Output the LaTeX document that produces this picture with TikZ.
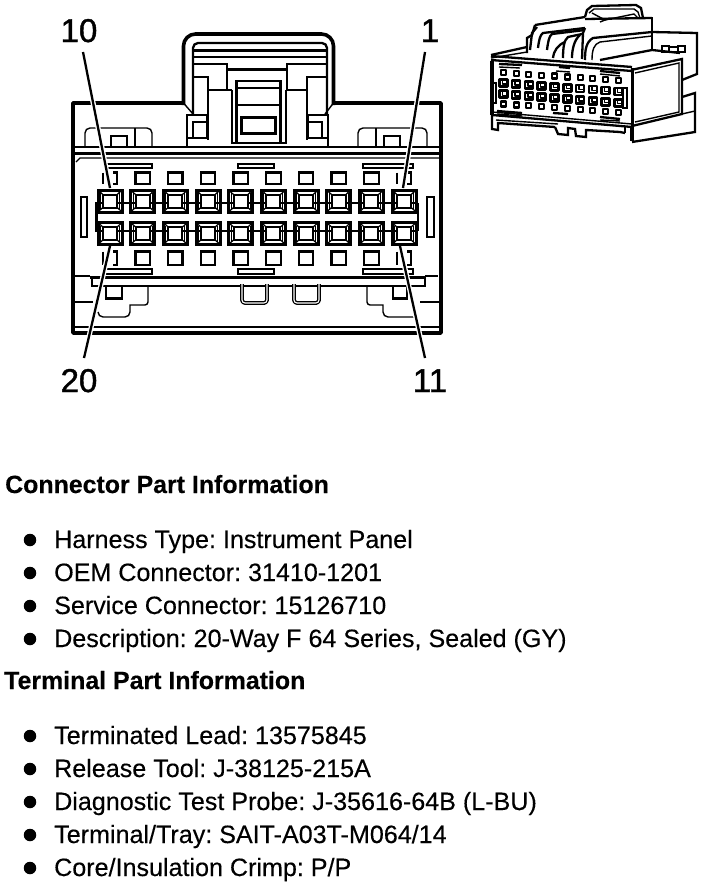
\documentclass[tikz,border=0pt]{standalone}
\usepackage{fontspec}
\setmainfont{Liberation Sans}
\newfontface\numf[FakeBold=1.2]{Liberation Sans}
\newfontface\itemf[FakeBold=0.25]{Liberation Sans}
\newfontface\headf[FakeBold=0.3]{Liberation Sans Bold}
\frenchspacing
\tikzset{
  thn/.style={line width=1.4pt,line cap=butt,line join=miter},
  med/.style={line width=2.3pt,line join=miter},
  thk/.style={line width=3.6pt,line join=round},
  leader/.style={line width=2.3pt,preaction={draw=white,line width=5pt,shorten >=3pt,shorten <=3pt}},
  numlbl/.style={inner sep=0pt,anchor=base,font=\fontsize{33}{33}\selectfont\numf},
  head/.style={inner sep=0pt,anchor=base west,font=\fontsize{24.9}{25}\selectfont\headf},
  item/.style={inner sep=0pt,anchor=base west,font=\fontsize{25.1}{25}\selectfont\itemf},
  dotb/.style={circle,fill=black,minimum size=12.5pt,inner sep=0pt},
  ubend/.style={line width=3.8pt,rounded corners=3pt,line join=round},
  uin/.style={line width=1.1pt,draw=white,rounded corners=3pt},
}
\begin{document}
\begin{tikzpicture}[x=1pt,y=-1pt]
\useasboundingbox (0,0) rectangle (704,886);
\fill[white] (0,0) rectangle (704,886);
% --- body outline
\draw[thk] (183.5,103) -- (73,103) -- (73,333) -- (441,333) -- (441,103) -- (333.5,103);
% --- handle
\draw[thk] (183.5,105) -- (183.5,46) arc[start angle=180,end angle=270,radius=12] -- (321.5,34) arc[start angle=270,end angle=360,radius=12] -- (333.5,105);
\draw[thn] (183.5,103) -- (193,114);
\draw[thn] (333.5,103) -- (325,114);
\draw[med] (193,114) -- (193,48) arc[start angle=180,end angle=270,radius=5] -- (322,43) arc[start angle=270,end angle=360,radius=5] -- (327,114);
\draw[med] (193,50.5) -- (327,50.5);
\draw[thn] (193,57) -- (327,57);
\draw[med] (193,64) -- (227,64) -- (227,69.5) -- (287,69.5) -- (287,64) -- (327,64);
\draw[thn] (193,77) -- (208,77) -- (208,140);
\draw[thn] (327,77) -- (307,77) -- (307,140);
\draw[thn] (227,64) -- (227,90) -- (208,90);
\draw[thn] (232,90) -- (227,90);
\draw[thn] (287,64) -- (287,90) -- (307,90);
\draw[med] (232,90) -- (232,143) -- (286,143) -- (286,90);
\draw[med] (236.5,143) -- (236.5,81) -- (280.5,81) -- (280.5,143);
\draw[thn] (236,88) -- (280,88);
\draw[thn] (236,105) -- (280,105);
\draw[line width=3pt] (241,117) rectangle (275,133);
% side boxes
\draw[med] (187,147) -- (187,115) -- (207,115) -- (207,138) -- (187,138);
\draw[med] (193,138) -- (193,122) -- (207,122);
\draw[med] (328,147) -- (328,115) -- (308,115) -- (308,138) -- (328,138);
\draw[med] (322,138) -- (322,122) -- (308,122);
% --- upper rules
\draw[thn] (75,147) -- (439,147);
\draw[line width=3pt] (75,153) -- (439,153);
\draw[thn] (439,158) -- (80,158) -- (76,162);
% --- upper tabs
\draw[thn] (85,147) -- (85,133) arc[start angle=180,end angle=270,radius=5] -- (147,128) arc[start angle=270,end angle=360,radius=5] -- (152,147);
\draw[med] (135,128) -- (135,147);
\draw[med] (111,147) -- (111,136) -- (127,136) -- (127,147);
\draw[thn] (358,147) -- (358,133) arc[start angle=180,end angle=270,radius=5] -- (422,128) arc[start angle=270,end angle=360,radius=5] -- (427,147);
\draw[med] (376,128) -- (376,147);
\draw[med] (384,147) -- (384,136) -- (400,136) -- (400,147);
% --- bars
\foreach \a/\b in {105/152,238/274,363/413}{
  \draw[line width=2.4pt] (\a,164) rectangle (\b,168);
  \draw[line width=2.4pt] (\a,269) rectangle (\b,274);
}
% --- small squares
\foreach \k in {1,...,8}{
  \pgfmathsetmacro{\cx}{110+32.67*\k}
  \draw[med] (\cx-7.3,172.5) rectangle (\cx+7.3,184);
  \draw[med] (\cx-7.3,251.5) rectangle (\cx+7.3,265);
}
\foreach \cx in {110,404}{
  \draw[thn] (\cx-7,172.5) -- (\cx-7,184);
  \draw[med] (\cx+3,172.5) -- (\cx+7,172.5) -- (\cx+7,184) -- (\cx+3,184);
  \draw[thn] (\cx-7,251.5) -- (\cx-7,265);
  \draw[med] (\cx+3,251.5) -- (\cx+7,251.5) -- (\cx+7,265) -- (\cx+3,265);
}
% --- slots
\draw[line width=2pt] (80.5,197) rectangle (87,237);
\draw[line width=2pt] (427,197) rectangle (433.5,237);
% --- terminals
\foreach \cy in {201,233.5}{
  \foreach \k in {0,...,9}{
    \pgfmathsetmacro{\cx}{110+32.67*\k}
    \draw[line width=3pt,fill=white] (\cx-12,\cy-11) rectangle (\cx+12,\cy+11);
    \draw[line width=1.2pt] (\cx-11,\cy-10) -- (\cx+11,\cy+10);
    \draw[line width=1.2pt] (\cx+11,\cy-10) -- (\cx-11,\cy+10);
    \draw[line width=1.2pt] (\cx-9.5,\cy-8) -- (\cx-9.5,\cy+8);
    \draw[line width=1.2pt] (\cx+9.5,\cy-8) -- (\cx+9.5,\cy+8);
  }
}
\draw[line width=2.8pt] (95,203) -- (418,203);
\draw[line width=1.5pt] (95,231) -- (418,231);
\draw[line width=3pt] (96,203) -- (96,230);
\draw[line width=1.4pt] (418,203) -- (418,231);
\foreach \cy in {201,233.5}{
  \foreach \k in {0,...,9}{
    \pgfmathsetmacro{\cx}{110+32.67*\k}
    \draw[line width=2pt,fill=white] (\cx-7,\cy-6.5) rectangle (\cx+7,\cy+6.5);
  }
}
% --- lower rules
\draw[line width=3pt] (90,277) -- (425,277);
\draw[thn] (75,276) -- (90,276);
\draw[thn] (425,276) -- (438,276);
\draw[thn] (92,286) -- (425,286);
\draw[thn] (92,277) -- (92,287);
\draw[thn] (425,277) -- (425,287);
% --- lower tabs
\draw[med] (106,287) -- (106,298.5) -- (122,298.5) -- (122,287);
\draw[thn] (148,287) -- (148,302) arc[start angle=0,end angle=90,radius=3] -- (130,305) -- (130,312) arc[start angle=0,end angle=90,radius=5] -- (103,317) arc[start angle=90,end angle=180,radius=5];
\draw[med] (393,287) -- (393,298.5) -- (407,298.5) -- (407,287);
\draw[thn] (367,287) -- (367,302) arc[start angle=180,end angle=90,radius=3] -- (383,305) -- (383,312) arc[start angle=180,end angle=90,radius=5] -- (417,317);
\draw[thn] (75,302) -- (93,302);
\draw[thn] (420,302) -- (439,302);
\draw[ubend] (242,284) -- (242,303) -- (267,303) -- (267,284);
\draw[uin] (242,284) -- (242,303) -- (267,303) -- (267,284);
\draw[ubend] (294,284) -- (294,303) -- (319,303) -- (319,284);
\draw[uin] (294,284) -- (294,303) -- (319,303) -- (319,284);
\draw[thn] (75,327) -- (439,327);
% --- labels + leaders
\node[numlbl] (lbl10) at (79,42) {10};
\node[numlbl] (lbl1) at (430,42) {1};
\node[numlbl] (lbl20) at (79,392) {20};
\node[numlbl] (lbl11) at (430,392) {11};
\coordinate (a10) at (83,52); \coordinate (t10) at (110,188);
\coordinate (a1) at (425,52); \coordinate (t1) at (403,188);
\coordinate (a20) at (84,358); \coordinate (t20) at (110,246);
\coordinate (a11) at (425,358); \coordinate (t11) at (400,246);
\draw[leader] (a10) -- (t10);
\draw[leader] (a1) -- (t1);
\draw[leader] (a20) -- (t20);
\draw[leader] (a11) -- (t11);
% --- 3D view
\begin{scope}[line join=round]
% handle
\draw[med] (585,17) -- (587,10) -- (592,6) -- (636,5) -- (641,8) -- (643,18);
\draw[thn] (589,13) -- (594,9) -- (634,9) -- (638,12) -- (640,18);
\draw[thn] (592,13) -- (605,20) -- (600,22);
\draw[thn] (605,20) -- (634,14) -- (638,18);
\draw[med] (535,25) -- (585,17);
\draw[med] (643,18) -- (652,18) -- (652,50);
\draw[med] (585,19) -- (652,18);
% arches
\draw[med] (527,53) -- (527,38) -- (532,35) -- (535,25);
\draw[med] (530,50) -- (532,33) -- (537,27);
\draw[med] (538,48) .. controls (539,40) and (540,35) .. (543,33) -- (585,28);
\draw[med] (547,50) .. controls (548,42) and (549,36) .. (552,34) -- (585,30);
\draw[med] (553,58) .. controls (554,50) and (558,45) .. (565,42);
\draw[med] (563,58) .. controls (563,48) and (564,40) .. (568,37) -- (582,34);
\draw[med] (572,58) .. controls (572,50) and (574,40) .. (580,35);
\draw[med] (582,59) -- (583,33) -- (585,28);
\draw[med] (585,60) .. controls (585,50) and (586,42) .. (593,38) -- (652,32);
\draw[thn] (592,60) .. controls (592,50) and (594,44) .. (600,42) -- (652,36);
\draw[med] (652,32) -- (697,33) -- (697,74) -- (682,80);
% top surface
\draw[med] (491,55) -- (527,47);
\draw[thn] (491,58) -- (527,52);
\draw[med] (600,60) -- (652,50) -- (680,53);
% latch box
\draw[med] (662,46) rectangle (669,52);
\draw[med] (669,47) rectangle (678,52);
\draw[med] (678,46) rectangle (685,52);
% front face
\draw[med] (491,60) -- (632,71);
\draw[med] (491,56) -- (632,67);
\draw[thk] (492,61) -- (492,115);
\draw[line width=3pt] (632,68) -- (632,127);
\draw[med] (492,115) -- (632,127);
\draw[thn] (492,112) -- (632,124);
% side face
\draw[med] (631,70) -- (682,59) -- (682,114) -- (632,126);
\draw[thn] (635,73) -- (679,63) -- (679,112) -- (635,122);
\draw[med] (682,97) -- (695,93) -- (695,132) -- (632,142);
\draw[thn] (682,114) -- (695,111);
% bottom rail
\draw[med] (492,115) -- (492,129) -- (498,130) -- (498,123) -- (555,127);
\draw[thn] (496,120) -- (558,124);
\draw[med] (555,127) -- (558,134) -- (568,135) -- (568,128) -- (575,129) -- (576,136) -- (586,137) -- (586,130) -- (620,132) -- (625,133);
\draw[med] (625,127) -- (625,133);
\draw[thk] (632,127) -- (632,141);
% terminal field bars
\draw[thn] (499,67) -- (520,68);
\draw[med] (499,64) -- (522,65);
\draw[med] (559,67) -- (570,68);
\draw[thn] (556,71) -- (570,72);
\draw[med] (600,71) -- (620,73);
\draw[thn] (600,74) -- (620,76);
\draw[med] (497,111) -- (522,113);
\draw[thn] (497,114) -- (522,116);
\draw[med] (553,113) -- (568,114);
\draw[med] (600,117) -- (620,119);
\draw[thn] (600,120) -- (620,121);
% side slot
\draw[med] (493,83) rectangle (496,103);
\draw[med] (623,88) rectangle (627,108);
% terminals
\foreach \k in {0,...,9}{
  \pgfmathsetmacro{\tx}{503.3+12.8*\k}
  \pgfmathsetmacro{\ya}{72.3+0.93*\k}
  \pgfmathsetmacro{\yb}{83+0.93*\k}
  \pgfmathsetmacro{\yc}{94.3+0.93*\k}
  \pgfmathsetmacro{\yd}{104+0.97*\k}
  \draw[line width=2.1pt] (\tx-2.5,\ya-2.5) rectangle (\tx+2.5,\ya+2.5);
  \draw[line width=2.1pt] (\tx-2.5,\yd-2.5) rectangle (\tx+2.5,\yd+2.5);
  \draw[line width=2.7pt] (\tx-4,\yb-3.5) rectangle (\tx+4,\yb+3.5);
  \draw[line width=2.7pt] (\tx-4,\yc-3.5) rectangle (\tx+4,\yc+3.5);
  \draw[line width=1.5pt] (\tx-1,\yb-3) -- (\tx-1,\yb+1) -- (\tx+3,\yb+1);
  \draw[line width=1.5pt] (\tx-1,\yc-3) -- (\tx-1,\yc+1) -- (\tx+3,\yc+1);
}
\end{scope}
% --- text
\node[head] (h1) at (5,493) {Connector Part Information};
\node[head] (h2) at (4,689) {Terminal Part Information};
\foreach \n/\y/\t in {
 a/548/{Harness Type: Instrument Panel},
 b/581/{OEM Connector: 31410-1201},
 c/614/{Service Connector: 15126710},
 d/647/{Description: 20-Way F 64 Series, Sealed (GY)},
 e/744/{Terminated Lead: 13575845},
 f/777/{Release Tool: J-38125-215A},
 g/810/{Diagnostic Test Probe: J-35616-64B (L-BU)},
 h/843/{Terminal/Tray: SAIT-A03T-M064/14},
 i/876/{Core/Insulation Crimp: P/P}}{
  \node[item] (txt\n) at (54,\y) {\t};
  \node[dotb] (dot\n) at (30,\y-8) {};
}
\end{tikzpicture}
\end{document}
